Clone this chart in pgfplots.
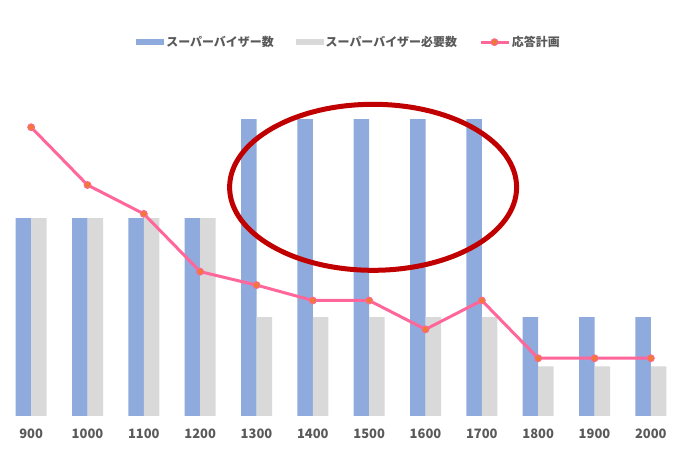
\documentclass[border=0pt]{standalone}
\usepackage{fontspec}
\setmainfont{Noto Sans CJK JP}
\usepackage{pgfplots}
\pgfplotsset{compat=1.18}
\definecolor{barblue}{HTML}{8FAADC}
\definecolor{bargray}{HTML}{D9D9D9}
\definecolor{linepink}{HTML}{FF6699}
\definecolor{markorange}{HTML}{F07838}
\definecolor{ellred}{HTML}{C00000}
\definecolor{txtgray}{HTML}{595959}
\begin{document}
\begin{tikzpicture}
\useasboundingbox (0,0) rectangle (680bp,467bp);
\begin{axis}[
  at={(3bp,51bp)}, anchor=south west,
  width=676bp, height=346.5bp, scale only axis,
  xmin=-0.5, xmax=11.5, ymin=0, ymax=7,
  ybar=0pt, bar width=15.5bp,
  xtick={0,...,11},
  xticklabels={900,1000,1100,1200,1300,1400,1500,1600,1700,1800,1900,2000},
  x tick label style={font=\fontsize{13}{15}\selectfont\bfseries, text=txtgray, yshift=-9bp},
  /pgf/number format/assume math mode=true,
  major tick length=0pt,
  ytick=\empty,
  axis line style={draw=none},
  legend columns=3,
  legend style={at={(0.512,1.079)}, anchor=center, draw=none, fill=none,
    font=\fontsize{12}{14}\selectfont\bfseries, text=txtgray,
    /tikz/every even column/.append style={column sep=20bp}},
]
\addplot[fill=barblue, draw=none,
  legend image code/.code={\fill[barblue] (0bp,-3bp) rectangle (28bp,3bp);}]
  coordinates {(0,4) (1,4) (2,4) (3,4) (4,6) (5,6) (6,6) (7,6) (8,6) (9,2) (10,2) (11,2)};
\addplot[fill=bargray, draw=none,
  legend image code/.code={\fill[bargray] (0bp,-3bp) rectangle (28bp,3bp);}]
  coordinates {(0,4) (1,4) (2,4) (3,4) (4,2) (5,2) (6,2) (7,2) (8,2) (9,1) (10,1) (11,1)};
\addlegendimage{legend image code/.code={
  \draw[linepink, line width=3bp] (0bp,0bp) -- (28bp,0bp);
  \fill[markorange, draw=linepink, line width=0.8bp] (14bp,0bp) circle (3.5bp);}}
\legend{スーパーバイザー数, スーパーバイザー必要数, 応答計画}
\end{axis}
\begin{axis}[
  at={(3bp,51bp)}, anchor=south west,
  width=676bp, height=346.5bp, scale only axis,
  xmin=-0.5, xmax=11.5, ymin=0, ymax=180,
  hide axis, clip=false,
]
\addplot[linepink, line width=3bp, mark=*, mark size=3.5bp,
  mark options={fill=markorange, draw=linepink, line width=0.8bp}]
  coordinates {(0,150) (1,120) (2,105) (3,75) (4,68) (5,60) (6,60) (7,45) (8,60) (9,30) (10,30) (11,30)};
\draw[ellred, line width=5bp] (axis cs:6.07,118.8) ellipse [x radius=143.5bp, y radius=83bp];
\end{axis}
\end{tikzpicture}
\end{document}
